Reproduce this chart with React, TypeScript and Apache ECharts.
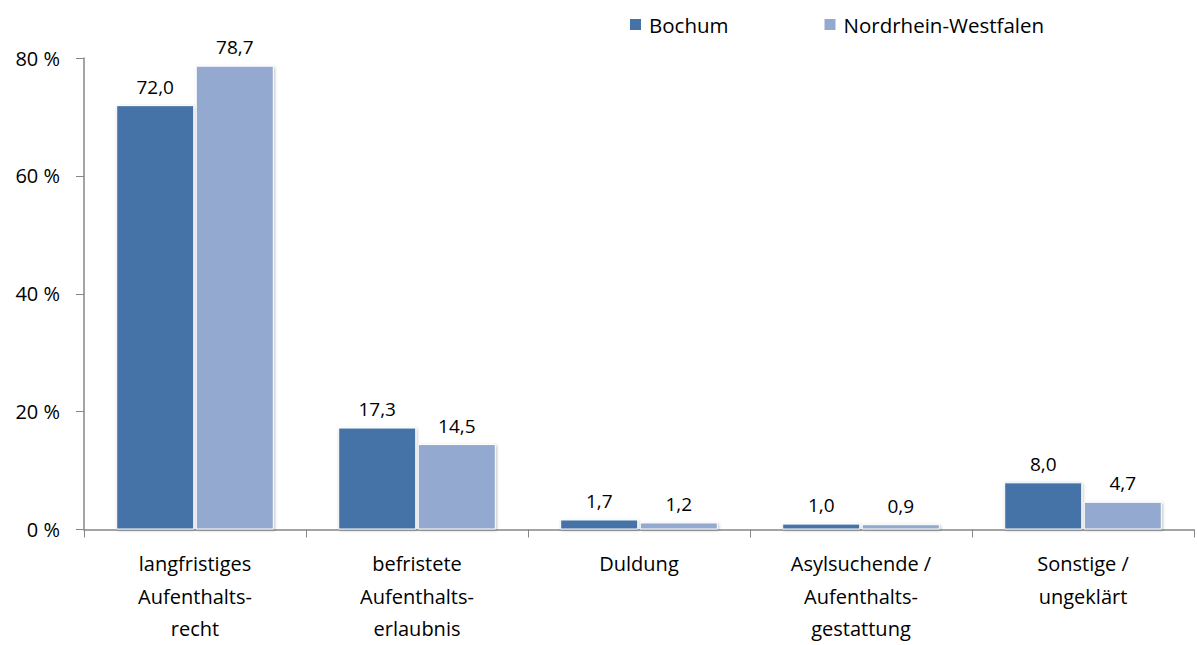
import React, { useEffect, useRef } from "react";
import * as echarts from "echarts";

const categories = [
  "langfristiges\nAufenthalts-\nrecht",
  "befristete\nAufenthalts-\nerlaubnis",
  "Duldung",
  "Asylsuchende /\nAufenthalts-\ngestattung",
  "Sonstige /\nungeklärt",
];
const bochum = [72.0, 17.3, 1.7, 1.0, 8.0];
const nrw = [78.7, 14.5, 1.2, 0.9, 4.7];
const seriesNames = ["Bochum", "Nordrhein-Westfalen"];
const colors = ["#4573A7", "#94A9CF"];

const FONT = "'Open Sans', 'Noto Sans', sans-serif";

export default function App() {
  const ref = useRef<HTMLDivElement>(null);
  useEffect(() => {
    if (!ref.current) return;
    const chart = echarts.init(ref.current, undefined, { renderer: "svg" });
    const fmt = (p: any) => Number(p.value).toFixed(1).replace(".", ",");
    const mkSeries = (name: string, data: number[], color: string) => ({
      name,
      type: "bar",
      data,
      barGap: "2%",
      barCategoryGap: "29%",
      itemStyle: {
        color,
        borderColor: "#ffffff",
        borderWidth: 1,
        shadowColor: "rgba(0,0,0,0.25)",
        shadowBlur: 3,
        shadowOffsetX: 1,
        shadowOffsetY: 1,
      },
      label: {
        show: true,
        position: "top",
        distance: 9,
        formatter: fmt,
        color: "#000",
        fontFamily: FONT,
        fontSize: 19,
      },
    });
    chart.setOption({
      animation: false,
      textStyle: { fontFamily: FONT },
      legend: {
        top: 9,
        left: 623,
        itemWidth: 13,
        itemHeight: 13,
        itemGap: 94,
        icon: "rect",
        data: seriesNames,
        textStyle: { fontFamily: FONT, fontSize: 20.5, color: "#000", padding: [0, 0, 0, 2] },
      },
      grid: { left: 84, right: 3, top: 58, bottom: 110, containLabel: false },
      xAxis: {
        type: "category",
        data: categories,
        axisLine: { lineStyle: { color: "#868686", width: 1.5 } },
        axisTick: { show: true, length: 8, lineStyle: { color: "#868686" } },
        axisLabel: {
          color: "#000",
          fontFamily: FONT,
          fontSize: 20,
          lineHeight: 32.5,
          margin: 18,
          interval: 0,
        },
      },
      yAxis: {
        type: "value",
        min: 0,
        max: 80,
        interval: 20,
        splitLine: { show: false },
        axisLine: { show: true, lineStyle: { color: "#868686", width: 1.5 } },
        axisTick: { show: true, length: 8, lineStyle: { color: "#868686" } },
        axisLabel: {
          color: "#000",
          fontFamily: FONT,
          fontSize: 20,
          margin: 24,
          formatter: (v: number) => `${v} %`,
        },
      },
      series: [
        mkSeries(seriesNames[0], bochum, colors[0]),
        mkSeries(seriesNames[1], nrw, colors[1]),
      ],
    });
    return () => chart.dispose();
  }, []);
  return <div ref={ref} style={{ width: 1197, height: 645, position: "absolute", left: 0, top: 0 }} />;
}
